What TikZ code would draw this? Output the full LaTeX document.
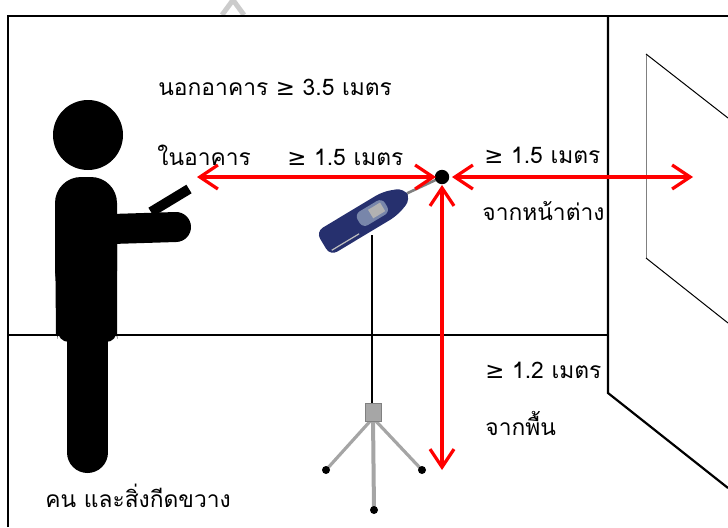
\documentclass[tikz,border=0pt]{standalone}
\usepackage{fontspec}
\newfontfamily\thaifont[Script=Thai]{Loma}
\newfontfamily\symfont{DejaVu Sans}
\usetikzlibrary{arrows.meta}
\definecolor{meterblue}{RGB}{38,48,110}
\definecolor{meterpanel}{RGB}{120,134,170}
\definecolor{tripodgray}{RGB}{165,165,165}
\newcommand{\atleast}{{\symfont ≥}}

\begin{document}
\begin{tikzpicture}[x=0.5pt, y=0.5pt,
    wall/.style={line width=1.1pt},
    redarrow/.style={red, line width=1.6pt,
      {Straight Barb[length=9pt,width=12pt]}-{Straight Barb[length=9pt,width=12pt]}},
    label/.style={anchor=base west, inner sep=0pt,
      font=\thaifont\fontsize{11.4}{14}\selectfont}]
  \useasboundingbox (0,0) rectangle (728,527);

  % faint mark above the frame
  \draw[gray!40, line width=2.5pt] (222,512) -- (233,527) -- (244,512);

  % Room: walls and floor
  \draw[wall] (8,0) -- (8,511) -- (728,511);
  \draw[wall] (608,511) -- (608,134) -- (728,39);
  \draw[wall] (8,192) -- (608,192);

  % Window on the side wall
  \draw[gray, line width=0.5pt] (646,473) -- (646,269);
  \draw[line width=0.5pt] (646,473) -- (728,409);
  \draw[line width=0.5pt] (646,269) -- (728,204);

  % Person holding a phone
  \fill (88,392) circle (17.5pt);
  \fill[rounded corners=13pt] (55,230) rectangle (117,350);
  \fill (56,192) -- (55,300) -- (117,300) -- (117,192) -- cycle;
  \fill[rounded corners=6pt] (58,200) -- (57,185) -- (118,185) -- (116,200) -- cycle;
  \draw[line width=20.5pt, line cap=round] (87.5,200) -- (87.5,74.5);
  \draw[line width=15pt, line cap=round] (112,298) -- (176,300);
  \draw[line width=5pt] (151,315) -- (189,338);

  % Tripod
  \coordinate (tripodtop) at (373,109);
  \draw[tripodgray, line width=1.6pt] (tripodtop) -- (326,57);
  \draw[tripodgray, line width=1.6pt] (tripodtop) -- (422,57);
  \draw[tripodgray, line width=2pt] (tripodtop) -- (374,17);
  \fill (326,57) circle (2pt);
  \fill (422,57) circle (2pt);
  \fill (374,17) circle (2pt);
  \draw[line width=1pt] (372,292) -- (372,122);
  \fill[gray!70, draw=gray] (365,106) rectangle (381,124);

  % Sound level meter
  \coordinate (mic) at (442,350);
  \begin{scope}[shift={(366,309)}, rotate=31]
    \fill[meterblue, rounded corners=4pt]
      (-50,-14) -- (28,-14) -- (48,-7) -- (48,6) -- (28,14) -- (-50,14) -- cycle;
    \fill[meterpanel, rounded corners=3pt] (-8,-7) rectangle (24,9);
    \fill[gray!60] (6,-4) rectangle (20,6);
    \draw[gray!50, line width=0.6pt] (-46,-10) -- (-14,-10);
    \coordinate (meterhead) at (48,0);
  \end{scope}
  \draw[gray, line width=1.3pt] (meterhead) -- (mic);
  \fill (mic) circle (3.6pt);

  % Distance arrows
  \coordinate (personside) at (197,350);
  \coordinate (micleft) at (436,350);
  \coordinate (micright) at (452,350);
  \coordinate (windowside) at (693,350);
  \coordinate (micbelow) at (442,342);
  \coordinate (floorpt) at (442,57);
  \draw[redarrow] (personside) -- (micleft);
  \draw[redarrow] (micright) -- (windowside);
  \draw[redarrow] (micbelow) -- (floorpt);

  % Labels
  \node[label] (outdoor) at (158,432) {นอกอาคาร \atleast{} 3.5 เมตร};
  \node[label] (indoor) at (157,362) {ในอาคาร};
  \node[label] (indoordist) at (287,362) {\atleast{} 1.5 เมตร};
  \node[label] (windowdist) at (484,364) {\atleast{} 1.5 เมตร};
  \node[label] (windowtxt) at (482,307) {จากหน้าต่าง};
  \node[label] (floordist) at (485,149) {\atleast{} 1.2 เมตร};
  \node[label] (floortxt) at (485,92) {จากพื้น};
  \node[label] (persontxt) at (45,20) {คน และสิ่งกีดขวาง};
\end{tikzpicture}
\end{document}
